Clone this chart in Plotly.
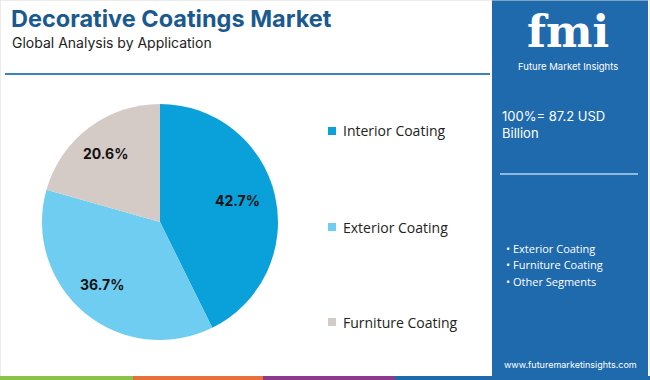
import math
import plotly.graph_objects as go

labels = ["Interior Coating", "Exterior Coating", "Furniture Coating"]
values = [42.7, 36.7, 20.6]
colors = ["#0aa1da", "#6fcdf1", "#d5cbc6"]
title = "Decorative Coatings Market"
subtitle = "Global Analysis by Application"
total_text = "100%= 87.2 USD<br>Billion"
segments = ["Exterior Coating", "Furniture Coating", "Other Segments"]
website = "www.futuremarketinsights.com"

W, H = 650, 380
PX0, PX1, PY0, PY1 = 42, 278, 104, 340  # pie box in pixels
fig = go.Figure()
fig.add_trace(go.Pie(
    labels=labels, values=values, sort=False, direction="clockwise", rotation=0,
    marker=dict(colors=colors, line=dict(width=0)),
    textinfo="none",
    domain=dict(x=[PX0/W, PX1/W], y=[(H-PY1)/H, (H-PY0)/H]),
    showlegend=False, hoverinfo="label+percent",
))

shapes = []
ann = []

# slice labels placed along the slice bisectors
cx, cy, r = (PX0+PX1)/2, (PY0+PY1)/2, (PX1-PX0)/2
total = sum(values)
cum = 0
for v in values:
    mid = (cum + v/2) / total * 2 * math.pi
    cum += v
    x = cx + 0.71 * r * math.sin(mid) - 4
    y = cy - 0.71 * r * math.cos(mid) - 2
    ann.append(dict(text=f"{v:.1f}%", x=x/W, y=(H-y)/H, xref="paper", yref="paper",
                    xanchor="center", yanchor="middle", showarrow=False,
                    font=dict(family="Inter, Arial", size=14, color="#111111", weight="bold")))

# outer border
shapes.append(dict(type="rect", xref="paper", yref="paper", x0=0, y0=0, x1=1, y1=1,
                   line=dict(color="#d9d9d9", width=1), fillcolor="rgba(0,0,0,0)"))
# right panel
shapes.append(dict(type="rect", xref="paper", yref="paper", x0=492/W, x1=648/W, y0=0, y1=1,
                   line=dict(width=0), fillcolor="#1f6aad", layer="below"))
# title separator line
shapes.append(dict(type="line", xref="paper", yref="paper", x0=5/W, x1=490/W,
                   y0=(H-74)/H, y1=(H-74)/H, line=dict(color="#3b82c4", width=2)))
# panel separator line
shapes.append(dict(type="line", xref="paper", yref="paper", x0=500/W, x1=638/W,
                   y0=(H-174)/H, y1=(H-174)/H, line=dict(color="#8fb8dc", width=2)))
# bottom colour bars
bars = [(0, 133, "#8bc34a"), (133, 263, "#e8703a"), (263, 395, "#8e3a8c"), (395, 650, "#1f6aad")]
for x0, x1, c in bars:
    shapes.append(dict(type="rect", xref="paper", yref="paper", x0=x0/W, x1=x1/W,
                       y0=0, y1=4/H, line=dict(width=0), fillcolor=c))

# legend
leg_y = [131, 227, 322]
for lab, col, y in zip(labels, colors, leg_y):
    shapes.append(dict(type="rect", xref="paper", yref="paper", x0=328/W, x1=336/W,
                       y0=(H-y-4)/H, y1=(H-y+4)/H, line=dict(width=0), fillcolor=col))
    ann.append(dict(text=lab, x=341/W, y=(H-y)/H, xref="paper", yref="paper",
                    xanchor="left", yanchor="middle", showarrow=False,
                    font=dict(family="Open Sans, Arial", size=14, color="#222222")))

ann.append(dict(text=title, x=9/W, y=(H-18)/H, xref="paper", yref="paper", xanchor="left",
                yanchor="middle", showarrow=False,
                font=dict(family="Inter, Arial", size=23.5, color="#1a5a8e", weight="bold")))
ann.append(dict(text=subtitle, x=10/W, y=(H-42)/H, xref="paper", yref="paper", xanchor="left",
                yanchor="middle", showarrow=False,
                font=dict(family="Inter, Arial", size=14, color="#222222")))
ann.append(dict(text=total_text, x=500/W, y=(H-124)/H, xref="paper", yref="paper", xanchor="left",
                yanchor="middle", align="left", showarrow=False,
                font=dict(family="Inter, Arial", size=13, color="white")))
for s, y in zip(segments, [248, 264, 281]):
    ann.append(dict(text="• " + s, x=504/W, y=(H-y)/H, xref="paper", yref="paper", xanchor="left",
                    yanchor="middle", showarrow=False,
                    font=dict(family="Open Sans, Arial", size=11, color="white")))
ann.append(dict(text=website, x=570/W, y=(H-364)/H, xref="paper", yref="paper", xanchor="center",
                yanchor="middle", showarrow=False,
                font=dict(family="Inter, Arial", size=9, color="white")))
# logo
ann.append(dict(text="fmi", x=568/W, y=(H-31)/H, xref="paper", yref="paper", xanchor="center",
                yanchor="middle", showarrow=False,
                font=dict(family="DejaVu Serif, serif", size=44, color="white", weight="bold")))
ann.append(dict(text="Future Market Insights", x=568/W, y=(H-66)/H, xref="paper", yref="paper",
                xanchor="center", yanchor="middle", showarrow=False,
                font=dict(family="Inter, Arial", size=9.5, color="white")))

fig.update_layout(width=W, height=H, margin=dict(l=0, r=0, t=0, b=0),
                  paper_bgcolor="white", plot_bgcolor="white",
                  shapes=shapes, annotations=ann)
fig.write_html("out.html", config={"displayModeBar": False},
               post_script="document.body.style.margin='0';")
